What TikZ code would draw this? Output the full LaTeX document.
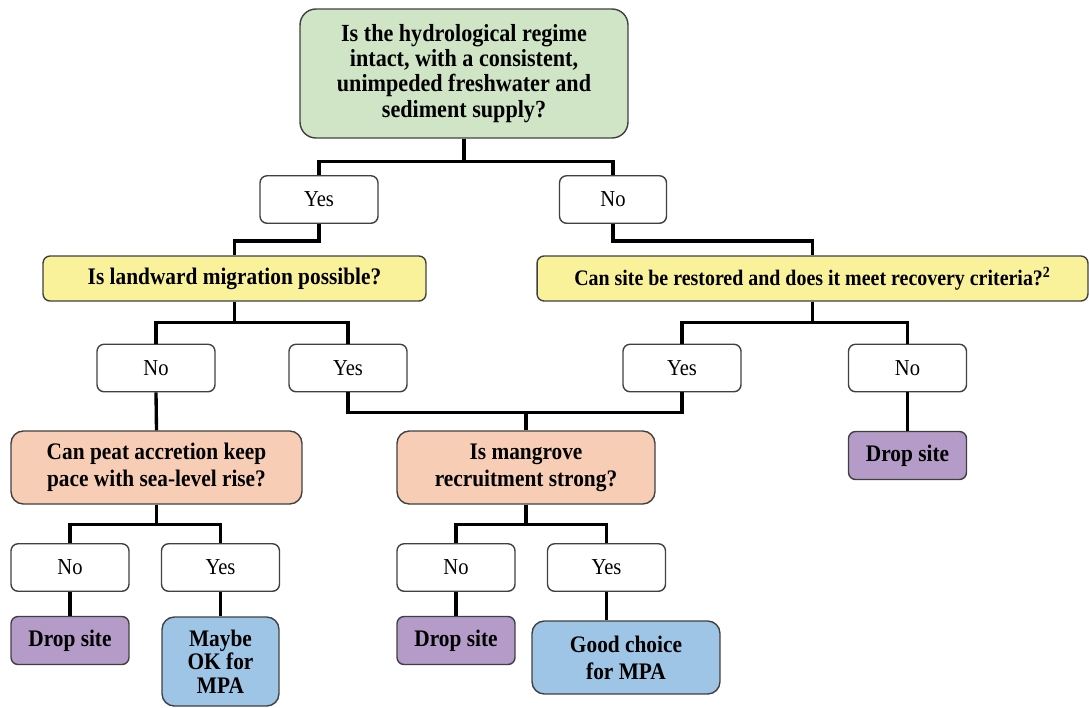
\documentclass[tikz,border=0pt]{standalone}
\usepackage{fontspec}
\setmainfont[FakeStretch=0.9]{Liberation Serif}
\usetikzlibrary{positioning}

\definecolor{hydgreen}{HTML}{D0E5C6}
\definecolor{qyellow}{HTML}{FAF29B}
\definecolor{qorange}{HTML}{F8CDB5}
\definecolor{droppurple}{HTML}{B59BC8}
\definecolor{mpablue}{HTML}{9FC5E6}

\tikzset{
  box/.style={draw=black!75, line width=0.8pt, rounded corners=4pt, align=center, inner sep=0pt},
  answer/.style={box, fill=white, minimum width=2.36cm, minimum height=0.95cm, font=\fontsize{13}{15}\selectfont},
  question/.style={box, font=\fontsize{13.5}{15.5}\selectfont\bfseries},
  dropbox/.style={question, fill=droppurple, minimum width=2.36cm, minimum height=0.96cm},
  mpabox/.style={question, fill=mpablue, rounded corners=7pt},
  link/.style={line width=1.9pt, black},
}

\begin{document}
\begin{tikzpicture}[x=0.02cm, y=-0.02cm]
  \useasboundingbox (0,0) rectangle (1089,707);

  % Top question
  \node[question, fill=hydgreen, rounded corners=9pt, minimum width=6.56cm, minimum height=2.58cm,
        font=\fontsize{14}{14.3}\selectfont\bfseries] (hydro) at (464,73.5)
    {Is the hydrological regime\\intact, with a consistent,\\unimpeded freshwater and\\sediment supply?};
  \node[answer] (hydroyes) at (319,199.5) {Yes};
  \node[answer, minimum width=2.14cm] (hydrono) at (613,199.5) {No};

  % Second level questions
  \node[question, fill=qyellow, minimum width=7.66cm, minimum height=0.9cm] (landward) at (234.5,278.5) {Is landward migration possible?};
  \node[question, fill=qyellow, minimum width=11.02cm, minimum height=0.9cm,
        font=\fontsize{12.6}{15.5}\selectfont\bfseries] (restore) at (812.5,278.5) {Can site be restored and does it meet recovery criteria?\textsuperscript{2}};

  \node[answer] (landno) at (156,368) {No};
  \node[answer] (landyes) at (348,368) {Yes};
  \node[answer] (restyes) at (682,368) {Yes};
  \node[answer] (restno) at (907.5,368) {No};

  % Third level questions
  \node[question, fill=qorange, rounded corners=7pt, minimum width=5.82cm, minimum height=1.46cm] (peat) at (156.5,467.5) {Can peat accretion keep\\pace with sea-level rise?};
  \node[question, fill=qorange, rounded corners=7pt, minimum width=5.16cm, minimum height=1.46cm] (recruit) at (526,467.5) {Is mangrove\\recruitment strong?};
  \node[dropbox] (droprest) at (907.5,455.5) {Drop site};

  \node[answer] (peatno) at (70,567.5) {No};
  \node[answer] (peatyes) at (220.5,567.5) {Yes};
  \node[answer] (recno) at (456,567.5) {No};
  \node[answer] (recyes) at (606.5,567.5) {Yes};

  % Outcomes
  \node[dropbox] (droppeat) at (70,640.5) {Drop site};
  \node[mpabox, minimum width=2.34cm, minimum height=1.78cm,
        font=\fontsize{13.5}{13.5}\selectfont\bfseries] (maybe) at (220.5,661.5) {Maybe\\OK for\\MPA};
  \node[dropbox] (droprec) at (456,640.5) {Drop site};
  \node[mpabox, minimum width=3.76cm, minimum height=1.46cm] (good) at (626,657.5) {Good choice\\for MPA};

  % Connectors
  \draw[link] (hydro.south) -- ++(0,23) -| (hydroyes.north);
  \draw[link] (hydro.south) -- ++(0,23) -| (hydrono.north);
  \draw[link] (hydroyes.south) -- ++(0,17) -| (landward.north);
  \draw[link] (hydrono.south) -- ++(0,17) -| (restore.north);
  \draw[link] (landward.south) -- ++(0,21) -| (landno.north);
  \draw[link] (landward.south) -- ++(0,21) -| (landyes.north);
  \draw[link] (restore.south) -- ++(0,21) -| (restyes.north);
  \draw[link] (restore.south) -- ++(0,21) -| (restno.north);
  \draw[link] (landyes.south) -- ++(0,20) -| (recruit.north);
  \draw[link] (restyes.south) -- ++(0,20) -| (recruit.north);
  \draw[link] (landno.south) -- (peat.north);
  \draw[link] (restno.south) -- (droprest.north);
  \draw[link] (peat.south) -- ++(0,20) -| (peatno.north);
  \draw[link] (peat.south) -- ++(0,20) -| (peatyes.north);
  \draw[link] (recruit.south) -- ++(0,20) -| (recno.north);
  \draw[link] (recruit.south) -- ++(0,20) -| (recyes.north);
  \draw[link] (peatno.south) -- (droppeat.north);
  \draw[link] (peatyes.south) -- (maybe.north);
  \draw[link] (recno.south) -- (droprec.north);
  \draw[link] (recyes.south) -- (recyes.south |- good.north);
\end{tikzpicture}
\end{document}
